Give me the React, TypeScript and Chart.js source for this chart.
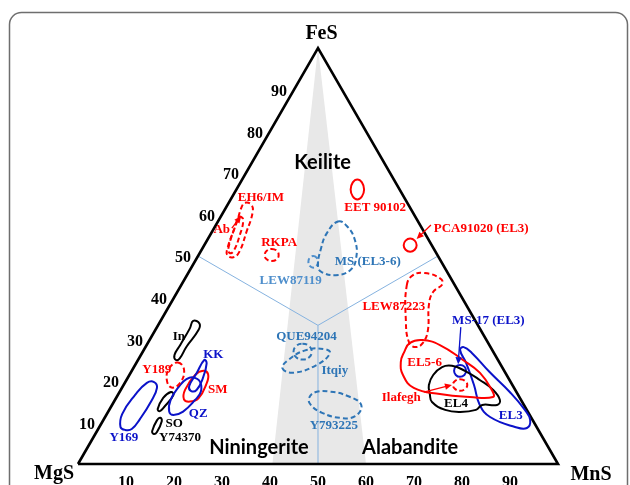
import React, { useEffect, useRef } from 'react';
import { Chart, registerables } from 'chart.js';

Chart.register(...registerables);

// Every point is a ternary composition: [MnS %, FeS %]  (MgS = 100 - MnS - FeS)
type TP = [number, number];

const cornerNames = ['MgS', 'MnS', 'FeS'];
const feSTicks = [10, 20, 30, 40, 50, 60, 70, 80, 90];
const mnSTicks = [10, 20, 30, 40, 50, 60, 70, 80, 90];
const regionNames = ['Keilite', 'Niningerite', 'Alabandite'];
const regionAt: TP[] = [[14.7, 72.5], [35.6, 4.2], [67.1, 4.2]];

const triangle: TP[] = [[0, 0], [100, 0], [0, 100], [0, 0]];
const grayZone: TP[] = [[40.5, 0], [60, 0], [0, 100], [40.5, 0]];
const centroid: TP = [33.33, 33.33];
const boundaryEnds: TP[] = [[0, 50], [50, 50], [50, 0]];

// fields
const Y169: TP[] = [[4.4, 8.9], [3.2, 12.0], [3.6, 16.6], [4.6, 19.5], [6.0, 19.7], [7.3, 18.3], [7.7, 15.1], [7.5, 10.8], [7.0, 8.4], [5.7, 8.2]];
const In: TP[] = [[6.8, 34.4], [8.4, 33.8], [9.0, 32.2], [8.5, 28.2], [8.5, 25.4], [7.9, 25.0], [7.0, 26.2], [7.0, 28.6], [7.0, 32.6]];
const Y189: TP[] = [[8.6, 24.4], [10.8, 22.6], [11.5, 19.4], [10.3, 18.4], [8.4, 20.2], [7.5, 23.0]];
const KK: TP[] = [[13.8, 25.0], [14.7, 24.2], [15.7, 20.6], [15.8, 17.8], [14.7, 17.6], [13.8, 18.75], [13.8, 21.8]];
const QZ: TP[] = [[13.6, 20.8], [15.5, 19.8], [16.9, 17.4], [16.7, 15.4], [15.6, 12.6], [14.0, 11.8], [12.7, 12.6], [11.6, 15.4], [11.8, 19.0], [12.4, 20.4]];
const SM: TP[] = [[14.9, 22.4], [16.3, 21.6], [17.1, 19.4], [17.2, 15.8], [15.8, 15.0], [14.3, 15.55], [13.4, 17.8], [13.7, 21.4]];
const SO: TP[] = [[10.7, 17.3], [11.6, 16.6], [11.1, 13.7], [10.7, 12.7], [10.0, 13.2], [9.8, 15.9]];
const Y74370: TP[] = [[11.6, 11.1], [12.3, 10.3], [12.6, 7.7], [12.2, 7.2], [11.5, 7.9], [11.2, 10.6]];
const EH6IM: TP[] = [[3.4, 62.8], [5.0, 62.3], [6.2, 60.3], [7.2, 55.8], [8.1, 51.0], [7.5, 49.7], [6.0, 50.2], [5.2, 51.85], [4.0, 58.2], [3.2, 61.85]];
const Ab: TP[] = [[3.9, 59.4], [5.0, 58.8], [6.2, 55.0], [6.8, 51.0], [6.1, 50.8], [5.4, 51.85], [4.2, 57.0]];
const RKPA: TP[] = [[14.5, 51.7], [15.8, 51.25], [16.7, 50.2], [16.8, 49.2], [15.95, 48.8], [14.7, 49.2], [13.8, 50.2], [13.7, 51.25]];
const EET90102: TP[] = [[24.0, 68.4], [25.3, 67.7], [26.6, 66.0], [27.0, 64.3], [26.4, 63.6], [25.1, 64.3], [23.8, 66.0], [23.4, 67.7]];
const PCA91020: TP[] = [[42.1, 54.2], [43.3, 53.7], [44.25, 52.6], [44.4, 51.5], [43.7, 51.0], [42.5, 51.5], [41.55, 52.6], [41.4, 53.7]];
const MS_EL36: TP[] = [[25.0, 58.3], [27.4, 57.2], [30.8, 53.8], [33.2, 49.5], [33.4, 46.6], [31.0, 45.4], [27.7, 46.15], [26.2, 47.6], [24.7, 51.9], [24.1, 55.5]];
const LEW87119: TP[] = [[24.0, 50.0], [24.9, 49.6], [25.7, 48.6], [25.9, 47.6], [25.4, 47.2], [24.5, 47.6], [23.7, 48.6], [23.5, 49.6]];
const QUE94204: TP[] = [[32.3, 28.9], [33.9, 28.4], [35.2, 27.0], [35.3, 25.6], [34.3, 25.1], [32.7, 25.6], [31.4, 27.0], [31.3, 28.4]];
const Itqiy: TP[] = [[31.1, 23.0], [33.9, 21.95], [37.8, 23.8], [39.2, 26.6], [37.7, 27.6], [33.9, 27.4], [31.3, 25.0]];
const Y793225: TP[] = [[40.2, 15.9], [40.9, 17.3], [43.8, 17.4], [48.0, 16.35], [51.9, 14.2], [52.0, 11.5], [49.0, 11.1], [44.7, 12.3], [41.4, 14.2]];
const LEW87223: TP[] = [[47.0, 43.0], [47.1, 45.4], [49.3, 45.9], [53.0, 44.7], [54.3, 43.3], [53.3, 41.35], [54.0, 38.2], [56.8, 32.2], [57.3, 29.1], [56.3, 28.1], [54.3, 29.3], [51.0, 34.6]];
const EL56: TP[] = [[54.5, 26.9], [54.6, 29.1], [56.8, 29.8], [61.1, 28.6], [67.7, 25.0], [72.8, 21.9], [77.3, 17.8], [78.4, 16.1], [73.6, 16.1], [67.0, 16.8], [60.8, 18.3], [57.0, 21.4], [55.0, 24.5]];
const EL4: TP[] = [[64.9, 16.8], [63.6, 19.0], [63.3, 21.4], [64.2, 23.3], [66.1, 23.6], [69.4, 22.4], [73.6, 20.2], [77.6, 17.8], [80.2, 15.4], [80.2, 14.2], [77.1, 14.2], [76.4, 13.0], [73.3, 12.5], [70.0, 13.0], [66.3, 14.9]];
const EL3: TP[] = [[65.9, 27.4], [66.3, 28.1], [68.7, 26.7], [74.7, 22.1], [81.3, 17.3], [86.6, 13.0], [88.9, 10.6], [89.2, 8.65], [86.6, 8.9], [80.2, 11.3], [76.6, 14.2], [73.0, 19.0], [68.7, 24.3]];
const MS17: TP[] = [[67.7, 23.8], [68.8, 23.4], [69.65, 22.4], [69.8, 21.4], [69.1, 20.95], [68.0, 21.4], [67.15, 22.4], [67.0, 23.4]];
const Ilafegh: TP[] = [[69.4, 20.4], [70.6, 20.0], [71.6, 19.0], [71.6, 18.0], [70.8, 17.6], [69.6, 18.0], [68.6, 19.0], [68.6, 20.0]];

const RED = '#ff0000';
const BLUE = '#0b12c9';
const MID = '#2e75b6';
const LIGHT = '#4f8fcc';
const BLACK = '#000000';

const fieldLabels: { text: string; at: TP; color: string }[] = [
  { text: 'In', at: [5.6, 30.8], color: BLACK },
  { text: 'KK', at: [14.9, 26.6], color: BLUE },
  { text: 'Y189', at: [4.9, 23.0], color: RED },
  { text: 'SM', at: [20.0, 18.2], color: RED },
  { text: 'QZ', at: [18.9, 12.3], color: BLUE },
  { text: 'SO', at: [15.1, 9.9], color: BLACK },
  { text: 'Y169', at: [6.3, 6.5], color: BLUE },
  { text: 'Y74370', at: [18.0, 6.5], color: BLACK },
  { text: 'EH6/IM', at: [5.9, 64.4], color: RED },
  { text: 'Ab', at: [1.7, 56.5], color: RED },
  { text: 'RKPA', at: [15.1, 53.6], color: RED },
  { text: 'EET 90102', at: [31.0, 61.85], color: RED },
  { text: 'PCA91020 (EL3)', at: [55.6, 56.8], color: RED },
  { text: 'MS (EL3-6)', at: [35.9, 48.9], color: MID },
  { text: 'LEW87119', at: [22.1, 44.4], color: LIGHT },
  { text: 'QUE94204', at: [32.2, 30.8], color: MID },
  { text: 'Itqiy', at: [42.2, 22.6], color: MID },
  { text: 'Y793225', at: [48.6, 9.4], color: MID },
  { text: 'LEW87223', at: [46.8, 38.0], color: RED },
  { text: 'MS-17 (EL3)', at: [68.1, 34.8], color: BLUE },
  { text: 'EL5-6', at: [59.9, 24.6], color: RED },
  { text: 'Ilafegh', at: [59.2, 16.3], color: RED },
  { text: 'EL4', at: [71.4, 14.7], color: BLACK },
  { text: 'EL3', at: [84.2, 11.9], color: BLUE },
];

const arrows: { from: TP; to: TP; color: string }[] = [
  { from: [63.3, 32.9], to: [67.2, 24.0], color: BLUE },
  { from: [63.4, 17.3], to: [68.4, 19.0], color: RED },
  { from: [44.8, 57.45], to: [43.5, 54.1], color: RED },
  { from: [3.7, 56.7], to: [4.2, 59.6], color: RED },
];

const toXY = (p: TP) => ({ x: p[0] + p[1] / 2, y: p[1] });

const SERIF = '"Liberation Serif", "Times New Roman", serif';

function field(data: TP[], color: string, dashed: boolean): any {
  return {
    type: 'line',
    data: data.map(toXY),
    borderColor: color,
    borderWidth: 2,
    borderDash: dashed ? [5, 3] : [],
    pointRadius: 0,
    tension: 0.45,
    fill: false,
    closed: true,
    order: 0,
  };
}

const pix = (chart: any, p: TP): [number, number] => {
  const q = toXY(p);
  return [chart.scales.x.getPixelForValue(q.x), chart.scales.y.getPixelForValue(q.y)];
};

const ternaryPlugin = {
  id: 'ternaryDecor',
  beforeDraw(chart: any) {
    const ctx = chart.ctx;
    ctx.save();
    ctx.fillStyle = '#ffffff';
    ctx.fillRect(0, 0, chart.width, chart.height);
    ctx.strokeStyle = '#6e6e6e';
    ctx.lineWidth = 1.5;
    ctx.beginPath();
    (ctx as any).roundRect(9.5, 12.5, 618, 520, 12);
    ctx.stroke();
    ctx.restore();
  },
  beforeDatasetsDraw(chart: any) {
    chart.data.datasets.forEach((ds: any, i: number) => {
      if (!ds.closed) return;
      const el: any = chart.getDatasetMeta(i).dataset;
      if (!el) return;
      el._loop = true;
      el._fullLoop = true;
      el._segments = undefined;
      el._path = undefined;
      el._pointsUpdated = false;
    });
  },
  afterDatasetsDraw(chart: any) {
    const ctx = chart.ctx;
    ctx.save();
    // arrows
    arrows.forEach((a) => {
      const [x1, y1] = pix(chart, a.from);
      const [x2, y2] = pix(chart, a.to);
      const ang = Math.atan2(y2 - y1, x2 - x1);
      ctx.strokeStyle = a.color;
      ctx.fillStyle = a.color;
      ctx.lineWidth = 1.3;
      ctx.beginPath();
      ctx.moveTo(x1, y1);
      ctx.lineTo(x2 - 4 * Math.cos(ang), y2 - 4 * Math.sin(ang));
      ctx.stroke();
      ctx.beginPath();
      ctx.moveTo(x2, y2);
      ctx.lineTo(x2 - 7 * Math.cos(ang) + 3.2 * Math.sin(ang), y2 - 7 * Math.sin(ang) - 3.2 * Math.cos(ang));
      ctx.lineTo(x2 - 7 * Math.cos(ang) - 3.2 * Math.sin(ang), y2 - 7 * Math.sin(ang) + 3.2 * Math.cos(ang));
      ctx.closePath();
      ctx.fill();
    });
    ctx.textAlign = 'center';
    ctx.textBaseline = 'alphabetic';
    // field labels
    ctx.font = `bold 13px ${SERIF}`;
    fieldLabels.forEach((l) => {
      const [x, y] = pix(chart, l.at);
      ctx.fillStyle = l.color;
      ctx.fillText(l.text, x, y + 4.5);
    });
    // region labels
    ctx.font = 'bold 20px Lato, "Open Sans", sans-serif';
    ctx.fillStyle = '#000';
    regionNames.forEach((n, i) => {
      const [x, y] = pix(chart, regionAt[i]);
      ctx.fillText(n, x, y + 7);
    });
    // tick labels
    ctx.font = `bold 16px ${SERIF}`;
    feSTicks.forEach((v) => {
      const [x, y] = pix(chart, [0, v]);
      ctx.fillText(String(v), x - 15, y + 6.5);
    });
    mnSTicks.forEach((v) => {
      const [x, y] = pix(chart, [v, 0]);
      ctx.fillText(String(v), x, y + 23);
    });
    // corner labels
    ctx.font = `bold 20px ${SERIF}`;
    const cornerAt: TP[] = [[0, 0], [100, 0], [0, 100]];
    const cornerOff = [[-24, 15], [33, 16], [3.5, -8.5]];
    cornerNames.forEach((n, i) => {
      const [x, y] = pix(chart, cornerAt[i]);
      ctx.fillText(n, x + cornerOff[i][0], y + cornerOff[i][1]);
    });
    ctx.restore();
  },
};

export default function App() {
  const ref = useRef<HTMLCanvasElement>(null);
  useEffect(() => {
    if (!ref.current) return;
    const datasets: any[] = [
      {
        type: 'line',
        data: grayZone.map(toXY),
        borderWidth: 0,
        borderColor: 'rgba(0,0,0,0)',
        backgroundColor: '#e8e8e8',
        fill: 'shape',
        pointRadius: 0,
        tension: 0,
        order: 10,
      },
      ...boundaryEnds.map((e) => ({
        type: 'line',
        data: [centroid, e].map(toXY),
        borderColor: '#86b3e0',
        borderWidth: 1,
        pointRadius: 0,
        tension: 0,
        fill: false,
        order: 9,
      })),
      {
        type: 'line',
        data: triangle.map(toXY),
        borderColor: '#000',
        borderWidth: 2.6,
        borderJoinStyle: 'miter',
        pointRadius: 0,
        tension: 0,
        fill: false,
        order: 8,
      },
      field(Y169, BLUE, false),
      field(In, BLACK, false),
      field(Y189, RED, true),
      field(QZ, BLUE, false),
      field(KK, BLUE, false),
      field(SM, RED, false),
      field(SO, BLACK, false),
      field(Y74370, BLACK, false),
      field(EH6IM, RED, true),
      field(Ab, RED, true),
      field(RKPA, RED, true),
      field(EET90102, RED, false),
      field(PCA91020, RED, false),
      field(MS_EL36, MID, true),
      field(LEW87119, LIGHT, true),
      field(QUE94204, MID, true),
      field(Itqiy, MID, true),
      field(Y793225, MID, true),
      field(LEW87223, RED, true),
      field(EL56, RED, false),
      field(EL4, BLACK, false),
      field(EL3, BLUE, false),
      field(MS17, BLUE, false),
      field(Ilafegh, RED, true),
    ];
    const chart = new Chart(ref.current, {
      type: 'scatter',
      data: { datasets },
      options: {
        animation: false,
        responsive: false,
        devicePixelRatio: 1,
        events: [],
        layout: { padding: 0 },
        plugins: { legend: { display: false }, tooltip: { enabled: false }, title: { display: false } },
        scales: {
          x: { type: 'linear', min: -16.25, max: 115, display: false },
          y: { type: 'linear', min: -5.048, max: 111.538, display: false },
        },
      } as any,
      plugins: [ternaryPlugin as any],
    });
    return () => chart.destroy();
  }, []);
  return (
    <div style={{ position: 'fixed', left: 0, top: 0, width: 630, height: 485, background: '#fff' }}>
      <canvas ref={ref} width={630} height={485} style={{ display: 'block', width: 630, height: 485 }} />
    </div>
  );
}
